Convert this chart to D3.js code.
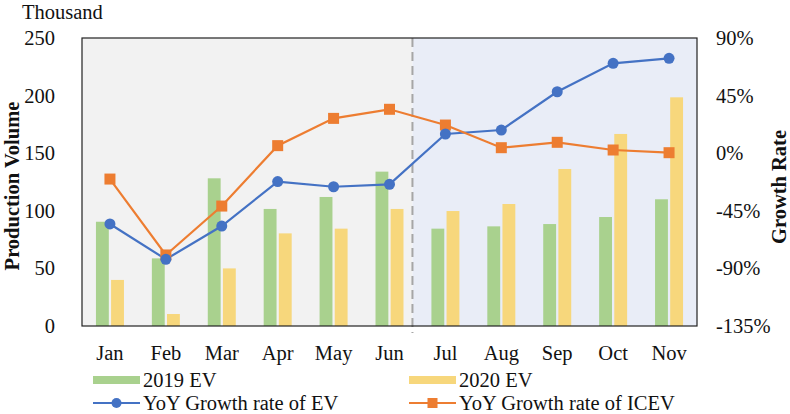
<!DOCTYPE html>
<html>
<head>
<meta charset="utf-8">
<script src="https://cdn.jsdelivr.net/npm/d3@7"></script>
<style>
html,body{margin:0;padding:0;background:#fff;}
</style>
</head>
<body>
<svg id="chart" width="790" height="414"></svg>
<script>
const months = ["Jan","Feb","Mar","Apr","May","Jun","Jul","Aug","Sep","Oct","Nov"];
const ev2019 = [90.5, 58.7, 128.2, 101.6, 112, 134, 84.5, 86.5, 88.5, 94.6, 110];
const ev2020 = [40, 10.4, 50, 80.4, 84.5, 101.6, 99.8, 105.9, 136.3, 166.7, 198.5];
const growthEV = [-55.3, -82.9, -56.9, -22.2, -26.2, -24.3, 15, 18.1, 48, 70.2, 74.1];
const growthICEV = [-20.2, -79.5, -41.3, 5.9, 27.2, 34.3, 22, 4.3, 8.5, 2.5, 0.4];
const leftTicks = [0, 50, 100, 150, 200, 250];
const rightTicks = [-135, -90, -45, 0, 45, 90];
const splitMonth = "Jul";

const C = {green:"#a9d18e", yellow:"#f7d77c", blue:"#4472c4", orange:"#ed7d31",
           bgLeft:"#f2f2f2", bgRight:"#e9edf7", dash:"#a6a6a6"};
const FF = "Liberation Serif";
const fs = "20.5px";

const svg = d3.select("#chart");
const L = 82, R = 697, T = 38, B = 326;

const x = d3.scaleBand().domain(months).range([L, R]).paddingInner(0).paddingOuter(0);
const bw = x.bandwidth();
const x1 = d3.scaleBand().domain(["2019","2020"]).range([bw/2-14, bw/2+14]).paddingInner(0.15);
const yL = d3.scaleLinear().domain([0, 250]).range([B, T]);
const yR = d3.scaleLinear().domain([-135, 90]).range([B, T]);

const splitX = x(splitMonth) - 5;

// backgrounds
svg.append("rect").attr("x", L).attr("y", T).attr("width", splitX - L).attr("height", B - T).attr("fill", C.bgLeft);
svg.append("rect").attr("x", splitX).attr("y", T).attr("width", R - splitX).attr("height", B - T).attr("fill", C.bgRight);

// bars
const g = svg.append("g");
months.forEach((m, i) => {
  g.append("rect").attr("x", x(m) + x1("2019")).attr("y", yL(ev2019[i]))
    .attr("width", x1.bandwidth()).attr("height", yL(0) - yL(ev2019[i])).attr("fill", C.green);
  g.append("rect").attr("x", x(m) + x1("2020")).attr("y", yL(ev2020[i]))
    .attr("width", x1.bandwidth()).attr("height", yL(0) - yL(ev2020[i])).attr("fill", C.yellow);
});

// dashed divider
svg.append("line").attr("x1", splitX).attr("x2", splitX).attr("y1", T).attr("y2", B + 7)
  .attr("stroke", C.dash).attr("stroke-width", 2).attr("stroke-dasharray", "9,5");

// frame
svg.append("rect").attr("x", L).attr("y", T).attr("width", R - L).attr("height", B - T)
  .attr("fill", "none").attr("stroke", "#222").attr("stroke-width", 1.2);

// lines
const cx = m => x(m) + bw/2;
const lineEV = d3.line().x((d, i) => cx(months[i])).y(d => yR(d));
svg.append("path").datum(growthEV).attr("d", lineEV).attr("fill", "none")
  .attr("stroke", C.blue).attr("stroke-width", 2.2);
svg.append("path").datum(growthICEV).attr("d", lineEV).attr("fill", "none")
  .attr("stroke", C.orange).attr("stroke-width", 2.2);
svg.selectAll(".sq").data(growthICEV).enter().append("rect")
  .attr("x", (d, i) => cx(months[i]) - 5.5).attr("y", d => yR(d) - 5.5)
  .attr("width", 11).attr("height", 11).attr("fill", C.orange);
svg.selectAll(".ci").data(growthEV).enter().append("circle")
  .attr("cx", (d, i) => cx(months[i])).attr("cy", d => yR(d)).attr("r", 5.5).attr("fill", C.blue);

// axes
function styleAxis(ax) {
  ax.attr("font-family", FF).attr("font-size", fs);
  ax.select(".domain").remove();
  ax.selectAll("text").attr("font-family", FF).attr("font-size", fs).attr("fill", "#111");
}
const axL = svg.append("g").attr("transform", `translate(${L},0)`)
  .call(d3.axisLeft(yL).tickValues(leftTicks).tickSize(0).tickPadding(27));
styleAxis(axL);
const axR = svg.append("g").attr("transform", `translate(${R},0)`)
  .call(d3.axisRight(yR).tickValues(rightTicks).tickSize(0).tickPadding(19).tickFormat(d => d + "%"));
styleAxis(axR);
const axB = svg.append("g").attr("transform", `translate(0,${B})`)
  .call(d3.axisBottom(x).tickSize(0).tickPadding(19));
styleAxis(axB);

// titles
svg.append("text").attr("x", 22).attr("y", 19).attr("font-family", FF).attr("font-size", fs).attr("fill", "#111").text("Thousand");
svg.append("text").attr("transform", `translate(19,${(T+B)/2 + 4}) rotate(-90)`).attr("text-anchor", "middle")
  .attr("font-family", FF).attr("font-size", fs).attr("font-weight", "bold").attr("fill", "#111").text("Production Volume");
svg.append("text").attr("transform", `translate(786,${(T+B)/2 + 5}) rotate(-90)`).attr("text-anchor", "middle")
  .attr("font-family", FF).attr("font-size", fs).attr("font-weight", "bold").attr("fill", "#111").text("Growth Rate");

// legend
const leg = [
  {label:"2019 EV", type:"bar", color:C.green, x:93, y:380},
  {label:"2020 EV", type:"bar", color:C.yellow, x:409, y:380},
  {label:"YoY Growth rate of EV", type:"circle", color:C.blue, x:93, y:403},
  {label:"YoY Growth rate of ICEV", type:"square", color:C.orange, x:409, y:403}
];
leg.forEach(d => {
  const lg = svg.append("g");
  if (d.type === "bar") {
    lg.append("rect").attr("x", d.x).attr("y", d.y - 4).attr("width", 47).attr("height", 8).attr("fill", d.color);
  } else {
    lg.append("line").attr("x1", d.x).attr("x2", d.x + 47).attr("y1", d.y).attr("y2", d.y)
      .attr("stroke", d.color).attr("stroke-width", 2.2);
    if (d.type === "circle") lg.append("circle").attr("cx", d.x + 23.5).attr("cy", d.y).attr("r", 5).attr("fill", d.color);
    else lg.append("rect").attr("x", d.x + 18.5).attr("y", d.y - 5).attr("width", 10).attr("height", 10).attr("fill", d.color);
  }
  lg.append("text").attr("x", d.x + 50).attr("y", d.y + 7).attr("font-family", FF).attr("font-size", fs).attr("fill", "#111").text(d.label);
});
</script>
</body>
</html>
